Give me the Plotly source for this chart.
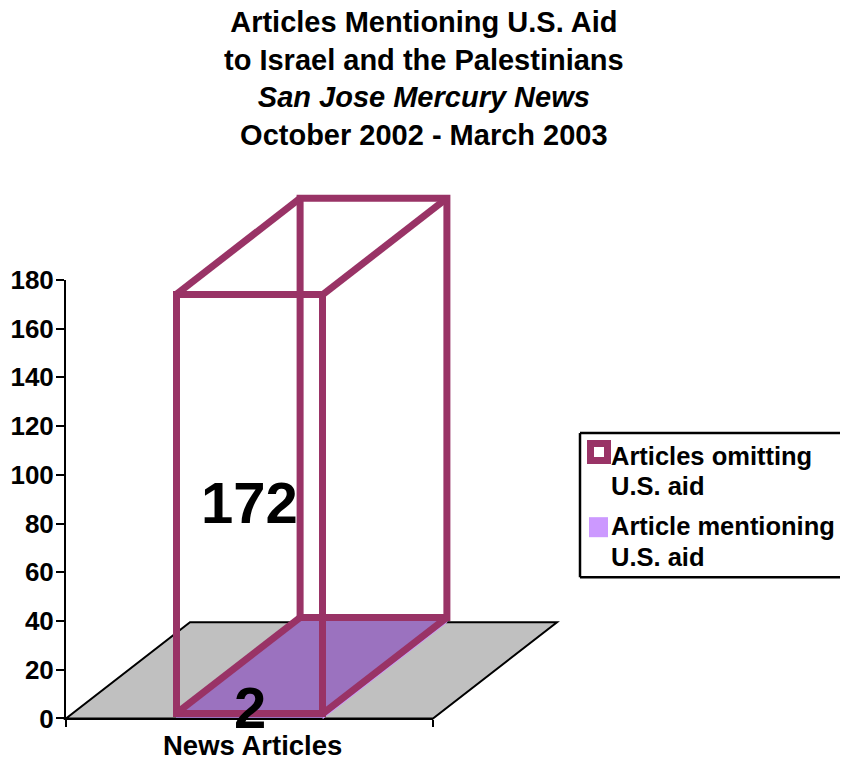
import plotly.graph_objects as go

# ---------------- data ----------------
category = ["News Articles"]
mentioning = [2]        # Article mentioning U.S. aid (bottom segment)
omitting = [172]        # Articles omitting U.S. aid (top segment)
legend_names = [["Articles omitting", "U.S. aid"], ["Article mentioning", "U.S. aid"]]
y_ticks = [0, 20, 40, 60, 80, 100, 120, 140, 160, 180]
title_lines = ["Articles Mentioning U.S. Aid", "to Israel and the Palestinians",
               "San Jose Mercury News", "October 2002 - March 2003"]

# ---------------- styling / geometry (target pixels) ----------------
W, H = 848, 762
# observed placement of the paper inside the screenshot
OX, OY = 8.0, 23.5
PW, PH = 848.0, 731.0

PX_LEFT, PX_RIGHT = 66, 433      # x axis extent
PX_Y0, PX_YMAX = 718, 280        # pixel rows of 0 and 180
Y_MAX = 180
DEPTH_DX, DEPTH_DY = 124, 96     # 3-D depth offset
BAR_WIDTH = 0.4
MAGENTA = "#993366"
PURPLE_TOP = "#9B72BF"
LAVENDER = "#CC99FF"
FLOOR = "#C0C0C0"
FONT = "Liberation Sans, Arial, sans-serif"


def px(xr):
    return (xr - OX) / PW


def py(yr):
    return 1 - (yr - OY) / PH


ppx = (PX_RIGHT - PX_LEFT) / 1.0
ppy = (PX_Y0 - PX_YMAX) / Y_MAX
x2_range = [-0.5 - (PX_LEFT - OX) / ppx, 0.5 + (OX + PW - PX_RIGHT) / ppx]
y2_range = [-(OY + PH - PX_Y0) / ppy, Y_MAX + (PX_YMAX - OY) / ppy]
dx = DEPTH_DX / ppx
dy = DEPTH_DY / ppy


def path(pts):
    return "M " + " L ".join(f"{a},{b}" for a, b in pts) + " Z"


fig = go.Figure()

# front faces of the stacked bar
fig.add_trace(go.Bar(x=[0], y=mentioning, width=BAR_WIDTH, xaxis="x2", yaxis="y2",
                     marker=dict(color=PURPLE_TOP, line=dict(width=0)),
                     name="Article mentioning U.S. aid", showlegend=False))
fig.add_trace(go.Bar(x=[0], y=omitting, width=BAR_WIDTH, xaxis="x2", yaxis="y2",
                     marker=dict(color="rgba(0,0,0,0)", line=dict(color=MAGENTA, width=7)),
                     name="Articles omitting U.S. aid", showlegend=False))

shapes = []
# floor
shapes.append(dict(type="path", xref="x2", yref="y2", layer="below",
                   path=path([(-0.5, 0), (0.5, 0), (0.5 + dx, dy), (-0.5 + dx, dy)]),
                   fillcolor=FLOOR, line=dict(color="black", width=2)))

x0, x1 = -BAR_WIDTH / 2, BAR_WIDTH / 2
b0, t0 = 0, mentioning[0]
b1, t1 = mentioning[0], mentioning[0] + omitting[0]
# right side face of the small segment
shapes.append(dict(type="path", xref="x2", yref="y2", layer="below",
                   path=path([(x1, b0), (x1 + dx, b0 + dy), (x1 + dx, t0 + dy), (x1, t0)]),
                   fillcolor=LAVENDER, line=dict(color=LAVENDER, width=1)))
# top face of the small segment
shapes.append(dict(type="path", xref="x2", yref="y2", layer="below",
                   path=path([(x0, t0), (x1, t0), (x1 + dx, t0 + dy), (x0 + dx, t0 + dy)]),
                   fillcolor=PURPLE_TOP, line=dict(width=0)))
# wireframe of the large segment (back face + connectors)
wire = dict(color=MAGENTA, width=7)
shapes.append(dict(type="path", xref="x2", yref="y2", layer="above",
                   path=path([(x0 + dx, b1 + dy), (x1 + dx, b1 + dy), (x1 + dx, t1 + dy), (x0 + dx, t1 + dy)]),
                   line=wire))
for xa in (x0, x1):
    for ya in (b1, t1):
        shapes.append(dict(type="line", xref="x2", yref="y2", layer="above",
                           x0=xa, y0=ya, x1=xa + dx, y1=ya + dy, line=wire))

# legend (drawn manually; its right side runs off the page as in the original)
LEG_L, LEG_T, LEG_B, LEG_R = 580, 433, 577, 900
shapes.append(dict(type="rect", xref="paper", yref="paper",
                   x0=px(LEG_L), x1=px(LEG_R), y0=py(LEG_B), y1=py(LEG_T),
                   line=dict(width=0), fillcolor="white"))
leg_line = dict(color="black", width=2.5)
for (xa, ya, xb, yb) in ((LEG_L, LEG_T, LEG_R, LEG_T), (LEG_L, LEG_B, LEG_R, LEG_B),
                         (LEG_L, LEG_T, LEG_L, LEG_B)):
    shapes.append(dict(type="line", xref="paper", yref="paper",
                       x0=px(xa), y0=py(ya), x1=px(xb), y1=py(yb), line=leg_line))
shapes.append(dict(type="rect", xref="paper", yref="paper",
                   x0=px(590.5), x1=px(607.5), y0=py(460.5), y1=py(443.5),
                   line=dict(color=MAGENTA, width=7), fillcolor="white"))
shapes.append(dict(type="rect", xref="paper", yref="paper",
                   x0=px(589), x1=px(608), y0=py(537), y1=py(517),
                   line=dict(width=0), fillcolor=LAVENDER))

annotations = []
leg_y = [[456, 486], [526, 557]]
for names, ys in zip(legend_names, leg_y):
    for t, yy in zip(names, ys):
        annotations.append(dict(text=f"<b>{t}</b>", xref="paper", yref="paper",
                                x=px(609), y=py(yy), xanchor="left", yanchor="middle",
                                showarrow=False, font=dict(size=25.5, color="black", family=FONT)))

# title
annotations.append(dict(
    text="<b>" + title_lines[0] + "<br>" + title_lines[1] + "<br><i>" + title_lines[2] +
         "</i><br>" + title_lines[3] + "</b>",
    xref="paper", yref="paper", x=px(424), y=py(79), xanchor="center", yanchor="middle",
    showarrow=False, font=dict(size=29, color="black", family=FONT)))

# category label
annotations.append(dict(text=f"<b>{category[0]}</b>", xref="x", yref="paper", x=0, y=py(745),
                        xshift=3, xanchor="center", yanchor="middle", showarrow=False,
                        font=dict(size=27.5, color="black", family=FONT)))

# value labels, centred on each segment's front face
for val, base, ys in ((mentioning[0], b0, 9), (omitting[0], b1, 2)):
    annotations.append(dict(text=f"<b>{val}</b>", xref="x2", yref="y2",
                            x=0, y=base + val / 2, yshift=ys,
                            xanchor="center", yanchor="middle", showarrow=False,
                            font=dict(size=58, color="black", family=FONT)))

fig.update_layout(
    width=W, height=H, autosize=False,
    margin=dict(l=0, r=0, t=0, b=0, pad=0),
    paper_bgcolor="white", plot_bgcolor="rgba(0,0,0,0)",
    barmode="stack", showlegend=False,
    font=dict(family=FONT, color="black"),
    xaxis=dict(domain=[px(PX_LEFT), px(PX_RIGHT)], range=[-0.5, 0.5],
               showline=True, linecolor="black", linewidth=2,
               ticks="outside", ticklen=7, tickwidth=2, tickcolor="black",
               tickvals=[-0.5, 0.5], ticktext=["", ""], showgrid=False, zeroline=False,
               anchor="y", fixedrange=True),
    yaxis=dict(domain=[py(PX_Y0), py(PX_YMAX)], range=[0, Y_MAX],
               showline=True, linecolor="black", linewidth=2,
               ticks="outside", ticklen=8, tickwidth=2, tickcolor="black",
               tickvals=y_ticks, ticktext=[f"<b>{v}</b>" for v in y_ticks],
               tickfont=dict(size=26, color="black", family=FONT),
               ticklabelstandoff=-3,
               showgrid=False, zeroline=False, anchor="x", fixedrange=True),
    xaxis2=dict(domain=[0, 1], range=x2_range, visible=False, anchor="y2", fixedrange=True),
    yaxis2=dict(domain=[0, 1], range=y2_range, visible=False, anchor="x2", fixedrange=True),
    shapes=shapes, annotations=annotations,
)

fig.write_html("out.html")
